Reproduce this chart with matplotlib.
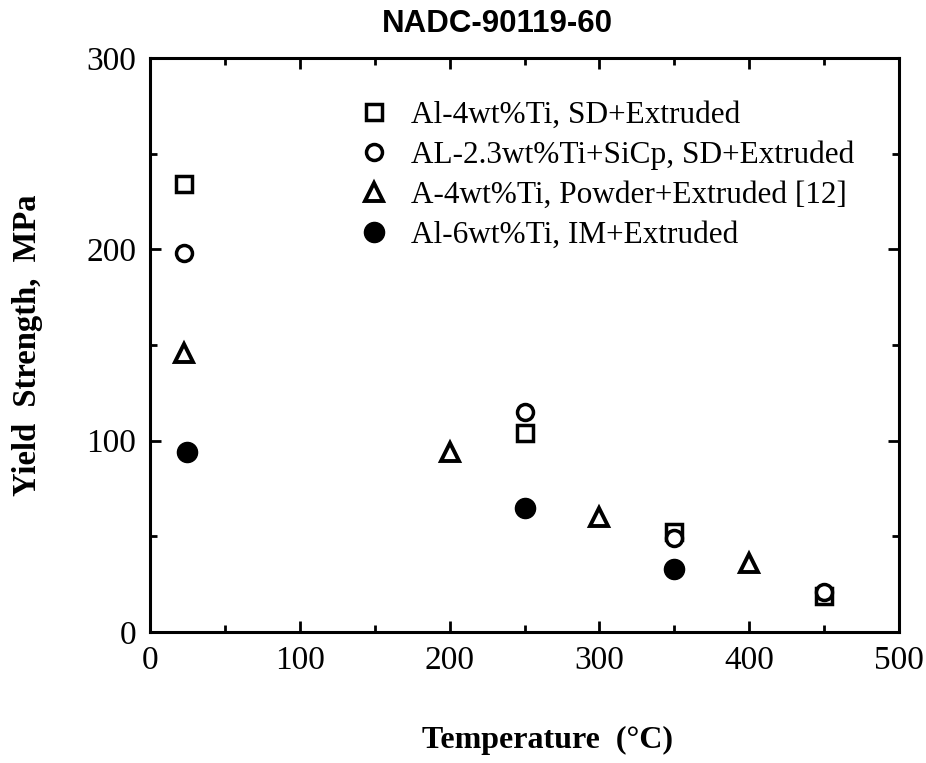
import matplotlib.pyplot as plt
from matplotlib.ticker import MultipleLocator

# data
sq_T = [23, 250, 350, 450]
sq_Y = [234, 104, 52, 19]
circ_T = [23, 250, 350, 450]
circ_Y = [198, 115, 49, 21]
tri_T = [23, 200, 300, 400]
tri_Y = [146, 94, 60, 36]
fill_T = [25, 250, 350]
fill_Y = [94, 65, 33]

labels = [
    "Al-4wt%Ti, SD+Extruded",
    "AL-2.3wt%Ti+SiCp, SD+Extruded",
    "A-4wt%Ti, Powder+Extruded [12]",
    "Al-6wt%Ti, IM+Extruded",
]

serif = "Liberation Serif"

fig = plt.figure(figsize=(9.26, 7.63), dpi=100)
ax = fig.add_axes([0.162, 0.1717, 0.809, 0.7523])

ax.plot(sq_T, sq_Y, "s", ms=11.5, mfc="white", mec="black", mew=2.5, ls="none", label=labels[0])
ax.plot(circ_T, circ_Y, "o", ms=11.5, mfc="white", mec="black", mew=2.5, ls="none", label=labels[1])
ax.plot(tri_T, tri_Y, "^", ms=12.5, mfc="white", mec="black", mew=2.8, ls="none", label=labels[2])
ax.plot(fill_T, fill_Y, "o", ms=14.5, mfc="black", mec="black", ls="none", label=labels[3])

ax.set_xlim(0, 500)
ax.set_ylim(0, 300)
ax.xaxis.set_major_locator(MultipleLocator(100))
ax.xaxis.set_minor_locator(MultipleLocator(50))
ax.yaxis.set_major_locator(MultipleLocator(100))
ax.yaxis.set_minor_locator(MultipleLocator(50))
ax.tick_params(which="both", direction="in", top=True, right=True, width=2)
ax.tick_params(which="major", length=8, labelsize=24, pad=10)
ax.tick_params(which="minor", length=5)
for lab in ax.get_xticklabels() + ax.get_yticklabels():
    lab.set_fontfamily(serif)
for s in ax.spines.values():
    s.set_linewidth(2.2)

ax.set_xlabel("Temperature  (°C)", fontfamily=serif, fontweight="bold", fontsize=23)
ax.xaxis.set_label_coords(0.531, -0.163)
ax.set_ylabel("Yield  Strength,  MPa", fontfamily=serif, fontweight="bold", fontsize=23.5, labelpad=31)

fig.text(0.537, 0.968, "NADC-90119-60", ha="center", va="center",
         fontfamily="Liberation Sans", fontweight="bold", fontsize=22.5)

ax.legend(loc="upper left", bbox_to_anchor=(0.262, 0.947), frameon=False,
          prop={"family": serif, "size": 22.5}, handletextpad=0.68,
          labelspacing=0.345, borderaxespad=0, handlelength=1.0)

fig.savefig("out.png", dpi=100)
